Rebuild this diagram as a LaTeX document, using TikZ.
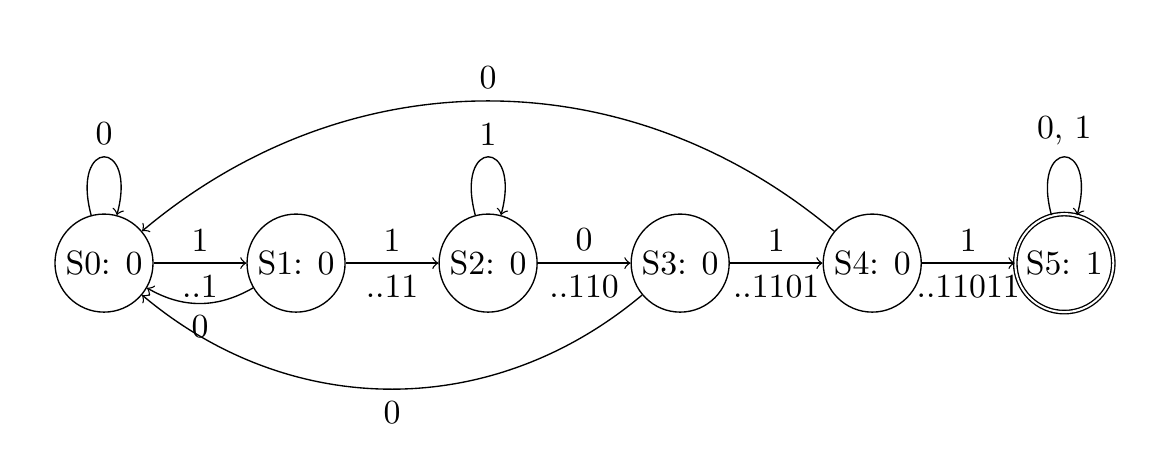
\documentclass[tikz,border=0pt]{standalone}
\begin{document}
\begin{tikzpicture}[stt/.style={circle, draw, inner sep=2pt}, acc/.style={stt, double}]
      \useasboundingbox (-1.083,-2.198) rectangle (11.08,2.74);
      \node[stt] (s0) at (0,0) {S0: 0};
      \node[stt] (s1) at (2,0) {S1: 0};
      \node[stt] (s2) at (4,0) {S2: 0};
      \node[stt] (s3) at (6,0) {S3: 0};
      \node[stt] (s4) at (8,0) {S4: 0};
      \node[acc] (s5) at (10,0) {S5: 1};
      \draw[->] (s0) to[loop above] node[above] {0} (s0);
      \draw[->] (s2) to[loop above] node[above] {1} (s2);
      \draw[->] (s5) to[loop above] node[above] {0, 1} (s5);
      \draw[->] (s0) -- node[above] {1} node[below] {..1} (s1);
      \draw[->] (s1) -- node[above] {1} node[below] {..11} (s2);
      \draw[->] (s2) -- node[above] {0} node[below] {..110} (s3);
      \draw[->] (s3) -- node[above] {1} node[below] {..1101} (s4);
      \draw[->] (s4) -- node[above] {1} node[below] {..11011} (s5);
      \draw[->] (s1) to[bend left] node[below] {0} (s0);
      \draw[->] (s3) to[bend left=40] node[below] {0} (s0);
      \draw[->] (s4) to[bend right=40] node[above] {0} (s0);
    \end{tikzpicture}
\end{document}
